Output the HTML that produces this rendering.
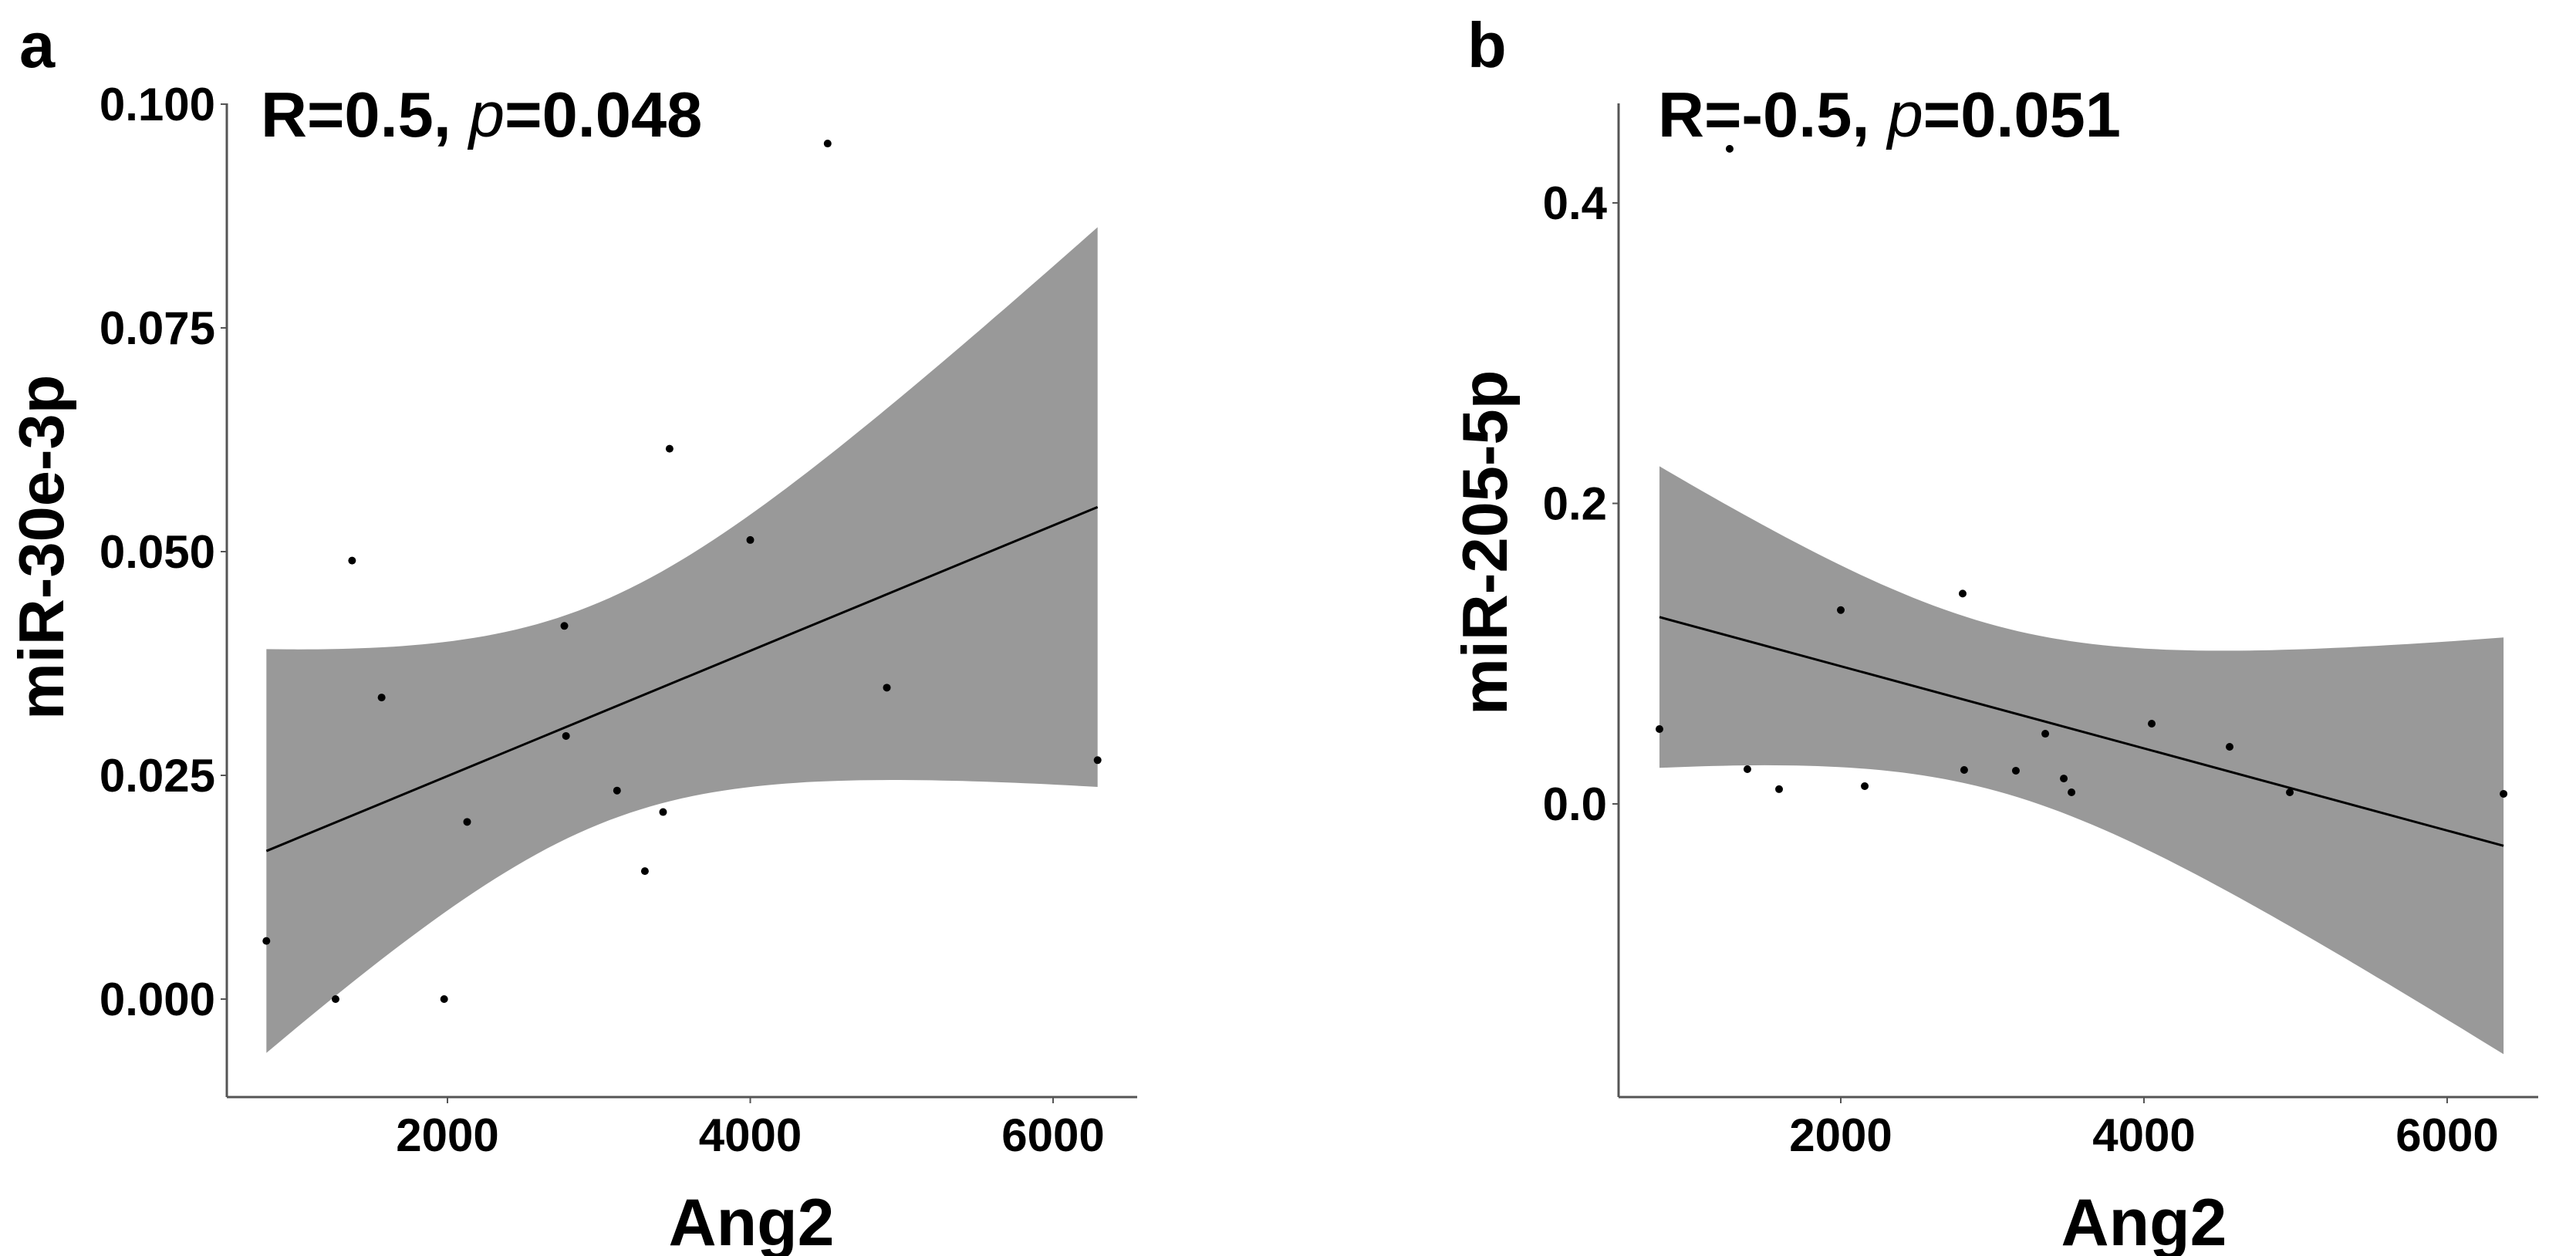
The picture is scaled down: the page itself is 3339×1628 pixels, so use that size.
<!DOCTYPE html>
<html><head><meta charset="utf-8"><style>
html,body{margin:0;padding:0;background:#fff;}
svg{display:block;font-family:"Liberation Sans",Arial,sans-serif;}
</style></head><body>
<svg id="fig" width="3339" height="1628" viewBox="0 0 3339 1628" xmlns="http://www.w3.org/2000/svg">
<rect x="0" y="0" width="3339" height="1628" fill="#fff"/>
<text x="25" y="87" font-size="83" font-weight="bold">a</text>
<text x="1902" y="87" font-size="83" font-weight="bold">b</text>
<text x="338" y="177" font-size="83" font-weight="bold">R=0.5, <tspan font-style="italic" font-weight="normal">p</tspan>=0.048</text>
<text x="2149" y="177" font-size="83" font-weight="bold">R=-0.5, <tspan font-style="italic" font-weight="normal">p</tspan>=0.051</text>
<text x="974" y="1614" font-size="86" font-weight="bold" text-anchor="middle">Ang2</text>
<text x="2779" y="1614" font-size="86" font-weight="bold" text-anchor="middle">Ang2</text>
<text transform="translate(82,933) rotate(-90)" font-size="83" font-weight="bold">miR-30e-3p</text>
<text transform="translate(1953,927) rotate(-90)" font-size="83" font-weight="bold">miR-205-5p</text>
<g id="pa"></g>
<g id="pb"></g>
</svg>
<script>
// Panel a data
const angA = [804,1261,1370,1565,1978,2130,2772,2783,3120,3304,3424,3467,4000,4511,4902,6294];
const mirA = [0.0065,0.000,0.049,0.0337,0.000,0.0198,0.0417,0.0294,0.0233,0.0143,0.0209,0.0615,0.0513,0.0956,0.0348,0.0267];
const yTicksA = [0,0.025,0.05,0.075,0.1];
const yTickLabelsA = ["0.000","0.025","0.050","0.075","0.100"];
const xTicksA = [2000,4000,6000];
const xTickLabelsA = ["2000","4000","6000"];
// Panel b data
const angB = [804,1267,1384,1593,2000,2158,2804,2814,3155,3349,3471,3522,4051,4565,4962,6372];
const mirB = [0.0498,0.436,0.0231,0.0098,0.129,0.0118,0.140,0.0226,0.0221,0.0467,0.0169,0.0077,0.0534,0.0380,0.0077,0.0067];
const yTicksB = [0,0.2,0.4];
const yTickLabelsB = ["0.0","0.2","0.4"];
const xTicksB = [2000,4000,6000];
const xTickLabelsB = ["2000","4000","6000"];

const NS="http://www.w3.org/2000/svg";
function mk(tag,attrs,parent){const e=document.createElementNS(NS,tag);for(const k in attrs)e.setAttribute(k,attrs[k]);parent.appendChild(e);return e;}

function panel(g,xs,ys,xS,yS,ax,xTicks,xLabs,yTicks,yLabs,pfx){
  // band + fit
  const n=xs.length;let mx=0,my=0;for(let i=0;i<n;i++){mx+=xs[i];my+=ys[i];}mx/=n;my/=n;
  let sxx=0,sxy=0;for(let i=0;i<n;i++){sxx+=(xs[i]-mx)**2;sxy+=(xs[i]-mx)*(ys[i]-my);}
  const b=sxy/sxx,a=my-b*mx;let sse=0;for(let i=0;i<n;i++)sse+=(ys[i]-a-b*xs[i])**2;
  const s=Math.sqrt(sse/(n-2)),t=2.145;
  const x0=Math.min(...xs),x1=Math.max(...xs);const N=80;let up=[],lo=[];
  for(let k=0;k<=N;k++){const x=x0+(x1-x0)*k/N;const f=a+b*x;const h=t*s*Math.sqrt(1/n+(x-mx)**2/sxx);
    up.push(xS(x).toFixed(1)+","+yS(f+h).toFixed(1));lo.unshift(xS(x).toFixed(1)+","+yS(f-h).toFixed(1));}
  const band=mk("polygon",{points:up.concat(lo).join(" "),fill:"#999999"},g);
  
  
  const ln=mk("line",{x1:xS(x0),y1:yS(a+b*x0),x2:xS(x1),y2:yS(a+b*x1),stroke:"#000","stroke-width":3},g);
  
  
  for(let i=0;i<n;i++){const c=mk("circle",{cx:xS(xs[i]),cy:yS(ys[i]),r:5,fill:"#000"},g);
    
    }
  // axes
  const yl=mk("line",{x1:ax.x,y1:ax.top,x2:ax.x,y2:ax.bottom,stroke:"#555","stroke-width":3},g);
  
  
  const xl=mk("line",{x1:ax.x,y1:ax.bottom,x2:ax.right,y2:ax.bottom,stroke:"#555","stroke-width":3},g);
  
  
  yTicks.forEach((v,i)=>{const y=yS(v);
    const tk=mk("line",{x1:ax.x-8,y1:y,x2:ax.x,y2:y,stroke:"#555","stroke-width":2},g);
    
    
    const tx=mk("text",{x:ax.x-15,y:y+21,"font-size":60,"font-weight":"bold","text-anchor":"end"},g);tx.textContent=yLabs[i];
    
    });
  xTicks.forEach((v,i)=>{const x=xS(v);
    const tk=mk("line",{x1:x,y1:ax.bottom,x2:x,y2:ax.bottom+8,stroke:"#555","stroke-width":2},g);
    
    
    const tx=mk("text",{x:x,y:1492,"font-size":60,"font-weight":"bold","text-anchor":"middle"},g);tx.textContent=xLabs[i];
    
    });
}
const xSA=v=>580+(v-2000)*392.5/2000, ySA=v=>1295-v/0.025*290;
const xSB=v=>2386+(v-2000)*393/2000, ySB=v=>1042-v*1947.5;
panel(document.getElementById("pa"),angA,mirA,xSA,ySA,{x:294,top:134,bottom:1422,right:1474},xTicksA,xTickLabelsA,yTicksA,yTickLabelsA,"panel-a");
panel(document.getElementById("pb"),angB,mirB,xSB,ySB,{x:2098,top:134,bottom:1422,right:3290},xTicksB,xTickLabelsB,yTicksB,yTickLabelsB,"panel-b");
</script>
</body></html>
